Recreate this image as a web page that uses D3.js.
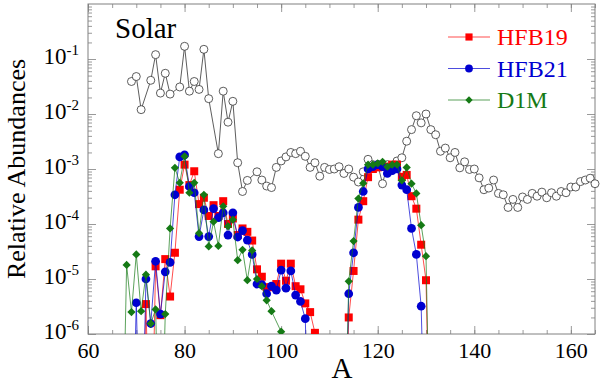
<!DOCTYPE html>
<html>
<head>
<meta charset="utf-8">
<script src="https://cdn.jsdelivr.net/npm/d3@7"></script>
<style>
  body { margin: 0; background: #fff; }
  svg { display: block; }
</style>
</head>
<body>
<script>
// 1e-9 marks a point that falls below the axis (line drops off the plot)
var solarA = [69, 70, 71, 73, 74, 75, 76, 77, 79, 80, 81, 82, 83, 84, 85, 87, 88, 89, 90, 91,
  92, 93, 95, 96, 97, 98, 99, 100, 101, 102, 103, 104, 105, 106, 107, 108, 109, 110, 111, 112,
  113, 114, 115, 116, 117, 118, 119, 120, 121, 122, 123, 124, 125, 126, 127, 128, 129, 130, 131, 132,
  133, 134, 135, 136, 137, 138, 139, 140, 141, 142, 143, 144, 145, 146, 147, 148, 149, 150, 151, 152,
  153, 154, 155, 156, 157, 158, 159, 160, 161, 162, 163, 164, 165];
var solarY = [3.9e-2, 4.8e-2, 1.2e-2, 4.1e-2, 1.2e-1, 2.4e-2, 5.5e-2, 2.3e-2, 3.1e-2, 1.7e-1,
  2.6e-2, 3.9e-2, 2.8e-2, 1.5e-1, 1.9e-2, 1.9e-3, 2.6e-2, 7.1e-3, 1.7e-2, 1.3e-3,
  3.9e-4, 6.2e-4, 8.9e-4, 6.3e-4, 4.9e-4, 4.6e-4, 1.07e-3, 1.4e-3, 1.66e-3, 2.0e-3,
  1.9e-3, 2.1e-3, 1.7e-3, 1.07e-3, 1.3e-3, 7.4e-4, 1.07e-3, 9.8e-4, 1.0e-3, 1.1e-3,
  8.3e-4, 1.0e-3, 7.1e-4, 5.8e-4, 8.9e-4, 1.5e-3, 1.2e-3, 1.2e-3, 5.4e-4, 1.2e-3,
  1.07e-3, 1.4e-3, 1.6e-3, 3.2e-3, 5.2e-3, 9.3e-3, 6.9e-3, 1.0e-2, 5.2e-3, 4.2e-3,
  2.1e-3, 2.4e-3, 1.6e-3, 2.0e-3, 1.05e-3, 1.35e-3, 9.8e-4, 1.0e-3, 6.9e-4, 4.2e-4,
  4.5e-4, 6.3e-4, 3.6e-4, 3.4e-4, 2.0e-4, 2.8e-4, 2.0e-4, 3.1e-4, 2.8e-4, 3.6e-4,
  3.2e-4, 3.8e-4, 3.0e-4, 3.7e-4, 3.2e-4, 3.9e-4, 3.7e-4, 4.7e-4, 4.7e-4, 5.9e-4,
  6.3e-4, 6.8e-4, 5.4e-4];

var hfb19A = [71, 72, 73, 74, 75, 76, 77, 78, 79, 80, 81, 82, 83, 84, 85, 86, 87, 88, 89, 90,
  91, 92, 93, 94, 95, 96, 97, 98, 99, 100, 101, 102, 103, 104, 105, 106, 107, 108,
  113, 114, 115, 116, 117, 118, 119, 120, 121, 122, 123, 124, 125, 126, 127, 128, 129, 130, 131];
var hfb19Y = [1e-9, 3.5e-6, 1e-9, 1.7e-5, 2.2e-6, 2.3e-5, 4.8e-6, 3.0e-5, 4.2e-4, 1.2e-3,
  5.1e-4, 9.1e-4, 2.3e-4, 3.0e-4, 1.4e-4, 2.2e-4, 1.4e-4, 2.6e-4, 1.0e-4, 1.26e-4,
  6.3e-5, 8.3e-5, 7.2e-5, 5.0e-5, 1.5e-5, 1.1e-5, 7.1e-6, 7.1e-6, 8.1e-6, 1.9e-5,
  9.3e-6, 1.9e-5, 7.4e-6, 6.5e-6, 3.6e-6, 2.5e-6, 1.05e-6, 1e-9,
  1e-9, 2.0e-6, 1.4e-5, 1.2e-4, 2.6e-4, 7.1e-4, 1.0e-3, 1.07e-3, 1.1e-3, 1.1e-3,
  1.2e-3, 1.2e-3, 7.2e-4, 7.8e-4, 3.2e-4, 1.9e-4, 4.2e-5, 9.5e-6, 1e-9];

var hfb21A = [69, 70, 71, 72, 73, 74, 75, 76, 77, 78, 79, 80, 81, 82, 83, 84, 85, 86, 87, 88,
  89, 90, 91, 92, 93, 94, 95, 96, 97, 98, 99, 100, 101, 102, 103, 104, 105, 106,
  113, 114, 115, 116, 117, 118, 119, 120, 121, 122, 123, 124, 125, 126, 127, 128, 129, 130];
var hfb21Y = [1e-9, 3.7e-6, 1e-9, 1.0e-5, 1.55e-6, 2.1e-5, 2.3e-6, 1.35e-5, 2.0e-5, 3.4e-4,
  1.66e-3, 1.8e-3, 4.8e-4, 3.7e-4, 5.9e-5, 1.8e-4, 5.9e-5, 1.9e-4, 1.3e-4, 1.6e-4,
  6.3e-5, 1.6e-4, 5.8e-5, 7.6e-5, 5.1e-5, 2.8e-5, 8.1e-6, 7.9e-6, 5.4e-6, 7.4e-6,
  6.3e-6, 1.45e-5, 6.8e-6, 1.4e-5, 5.1e-6, 3.9e-6, 1.9e-6, 1e-9,
  1e-9, 5.4e-6, 3.0e-5, 2.0e-4, 3.9e-4, 1.0e-3, 1.1e-3, 1.2e-3, 1.1e-3, 8.3e-4,
  9.3e-4, 1.0e-3, 5.1e-4, 4.2e-4, 8.3e-5, 2.8e-5, 3.2e-6, 1e-9];

var d1mA = [67, 68, 69, 70, 71, 72, 73, 74, 75, 76, 77, 78, 79, 80, 81, 82, 83, 84, 85, 86,
  87, 88, 89, 90, 91, 92, 93, 94, 95, 96, 97, 98, 100, 101,
  113, 114, 115, 116, 117, 118, 119, 120, 121, 122, 123, 124, 125, 126, 127, 128, 129, 130, 131];
var d1mY = [1e-9, 1.8e-5, 2.5e-6, 2.8e-5, 2.6e-6, 1.2e-5, 1.55e-6, 2.8e-6, 1e-9, 2.3e-6,
  8.3e-5, 1.05e-3, 5.6e-4, 1.7e-3, 3.7e-4, 5.6e-4, 6.8e-5, 3.4e-4, 3.9e-5, 1.1e-4,
  4.0e-5, 2.1e-4, 9.1e-5, 1.2e-4, 2.2e-5, 3.4e-5, 9.5e-6, 3.3e-5, 1.0e-5, 7.4e-6,
  4.1e-6, 2.6e-6, 1.1e-6, 1e-9,
  1e-9, 9.1e-6, 4.9e-5, 2.9e-4, 5.5e-4, 1.2e-3, 1.2e-3, 1.26e-3, 1.35e-3, 1.1e-3,
  1.2e-3, 1.2e-3, 6.2e-4, 1.07e-3, 5.4e-4, 3.6e-4, 9.5e-5, 2.6e-5, 1e-9];

var xMajor = [60, 80, 100, 120, 140, 160];
var yMajor = [1e-6, 1e-5, 1e-4, 1e-3, 1e-2, 1e-1];
var yExp = ['-6', '-5', '-4', '-3', '-2', '-1'];

var width = 600;
var height = 384;
var plot = { left: 88, right: 595, top: 4, bottom: 334 };
var serif = '"Liberation Serif", "Times New Roman", Times, serif';

var svg = d3.select('body')
  .append('svg')
  .attr('width', width)
  .attr('height', height)
  .attr('font-family', serif);

var xScale = d3.scaleLinear()
  .domain([60, 165])
  .range([plot.left, plot.right]);

var yScale = d3.scaleLog()
  .domain([1e-6, 1])
  .range([plot.bottom, plot.top]);

var yMinor = [];
for (var k = -6; k < 0; k++) {
  for (var m = 2; m <= 9; m++) yMinor.push(m * Math.pow(10, k));
}

svg.append('defs').append('clipPath')
  .attr('id', 'clip')
  .append('rect')
  .attr('x', plot.left)
  .attr('y', plot.top)
  .attr('width', plot.right - plot.left)
  .attr('height', plot.bottom - plot.top);

// axes (ticks point inward)
function styleAxis(g) {
  g.select('.domain').remove();
  g.selectAll('.tick line').attr('stroke', '#808080').attr('stroke-width', 0.8);
  g.attr('font-family', serif).attr('font-size', null);
}

svg.append('g')
  .attr('transform', 'translate(0,' + plot.bottom + ')')
  .call(d3.axisBottom(xScale).tickValues(d3.range(60, 166, 5)).tickSize(-4).tickFormat(''))
  .call(styleAxis);
svg.append('g')
  .attr('class', 'xaxis')
  .attr('transform', 'translate(0,' + plot.bottom + ')')
  .call(d3.axisBottom(xScale).tickValues(xMajor).tickSize(-8).tickPadding(8).tickFormat(d3.format('d')))
  .call(styleAxis);
svg.append('g')
  .attr('transform', 'translate(0,' + plot.top + ')')
  .call(d3.axisTop(xScale).tickValues(d3.range(60, 166, 5)).tickSize(-4).tickFormat(''))
  .call(styleAxis);
svg.append('g')
  .attr('transform', 'translate(0,' + plot.top + ')')
  .call(d3.axisTop(xScale).tickValues(xMajor).tickSize(-8).tickFormat(''))
  .call(styleAxis);

svg.append('g')
  .attr('transform', 'translate(' + plot.left + ',0)')
  .call(d3.axisLeft(yScale).tickValues(yMinor).tickSize(-4).tickFormat(''))
  .call(styleAxis);
svg.append('g')
  .attr('class', 'yaxis')
  .attr('transform', 'translate(' + plot.left + ',0)')
  .call(d3.axisLeft(yScale).tickValues(yMajor).tickSize(-8).tickPadding(9).tickFormat(''))
  .call(styleAxis);
svg.append('g')
  .attr('transform', 'translate(' + plot.right + ',0)')
  .call(d3.axisRight(yScale).tickValues(yMinor).tickSize(-4).tickFormat(''))
  .call(styleAxis);
svg.append('g')
  .attr('transform', 'translate(' + plot.right + ',0)')
  .call(d3.axisRight(yScale).tickValues(yMajor).tickSize(-8).tickFormat(''))
  .call(styleAxis);

svg.select('.xaxis').selectAll('text')
  .attr('font-size', '22px')
  .attr('fill', '#000');

svg.select('.yaxis').selectAll('.tick text')
  .attr('font-size', '23px')
  .attr('fill', '#000')
  .attr('dy', '0.18em')
  .each(function (d, i) {
    var t = d3.select(this);
    t.text('10');
    t.append('tspan')
      .attr('font-size', '15px')
      .attr('dy', -9)
      .text(yExp[i]);
  });

svg.append('rect')
  .attr('x', plot.left)
  .attr('y', plot.top)
  .attr('width', plot.right - plot.left)
  .attr('height', plot.bottom - plot.top)
  .attr('fill', 'none')
  .attr('stroke', '#808080')
  .attr('stroke-width', 1);

// axis titles
svg.append('text')
  .attr('x', 342)
  .attr('y', 378)
  .attr('text-anchor', 'middle')
  .attr('font-size', '29px')
  .text('A');

svg.append('text')
  .attr('transform', 'translate(25,169) rotate(-90)')
  .attr('text-anchor', 'middle')
  .attr('font-size', '26px')
  .text('Relative Abundances');

svg.append('text')
  .attr('x', 115)
  .attr('y', 38)
  .attr('font-size', '29px')
  .text('Solar');

var linePath = d3.line()
  .x(function (d) { return xScale(d[0]); })
  .y(function (d) { return yScale(d[1]); });

// solar
var solar = d3.zip(solarA, solarY);
svg.append('path')
  .attr('fill', 'none')
  .attr('stroke', '#333')
  .attr('stroke-width', 0.8)
  .attr('d', linePath(solar));
svg.append('g')
  .selectAll('circle')
  .data(solar)
  .enter()
  .append('circle')
  .attr('cx', function (d) { return xScale(d[0]); })
  .attr('cy', function (d) { return yScale(d[1]); })
  .attr('r', 4)
  .attr('fill', '#fff')
  .attr('stroke', '#333')
  .attr('stroke-width', 0.8);

var series = [
  { name: 'HFB19', a: hfb19A, y: hfb19Y, color: '#ff0000', symbol: d3.symbolSquare, size: 64, rot: 0 },
  { name: 'HFB21', a: hfb21A, y: hfb21Y, color: '#0000d0', symbol: d3.symbolCircle, size: 60, rot: 0 },
  { name: 'D1M', a: d1mA, y: d1mY, color: '#157a15', symbol: d3.symbolSquare, size: 34, rot: 45 }
];

var plotArea = svg.append('g').attr('clip-path', 'url(#clip)');

series.forEach(function (s) {
  var data = d3.zip(s.a, s.y);
  plotArea.append('path')
    .attr('fill', 'none')
    .attr('stroke', s.color)
    .attr('stroke-width', 0.7)
    .attr('d', linePath(data));
  plotArea.append('g')
    .selectAll('path')
    .data(data)
    .enter()
    .append('path')
    .attr('d', d3.symbol().type(s.symbol).size(s.size))
    .attr('transform', function (d) {
      return 'translate(' + xScale(d[0]) + ',' + yScale(d[1]) + ') rotate(' + s.rot + ')';
    })
    .attr('fill', s.color);
});

// legend
var legend = svg.append('g');
series.forEach(function (s, i) {
  var ly = 37 + i * 31.5;
  legend.append('line')
    .attr('x1', 448).attr('x2', 490)
    .attr('y1', ly).attr('y2', ly)
    .attr('stroke', s.color)
    .attr('stroke-width', 0.7);
  legend.append('path')
    .attr('d', d3.symbol().type(s.symbol).size(s.size * 0.8))
    .attr('transform', 'translate(469,' + ly + ') rotate(' + s.rot + ')')
    .attr('fill', s.color);
  legend.append('text')
    .attr('x', 497)
    .attr('y', ly + 8)
    .attr('font-size', '24px')
    .attr('fill', s.color)
    .text(s.name);
});
</script>
</body>
</html>
